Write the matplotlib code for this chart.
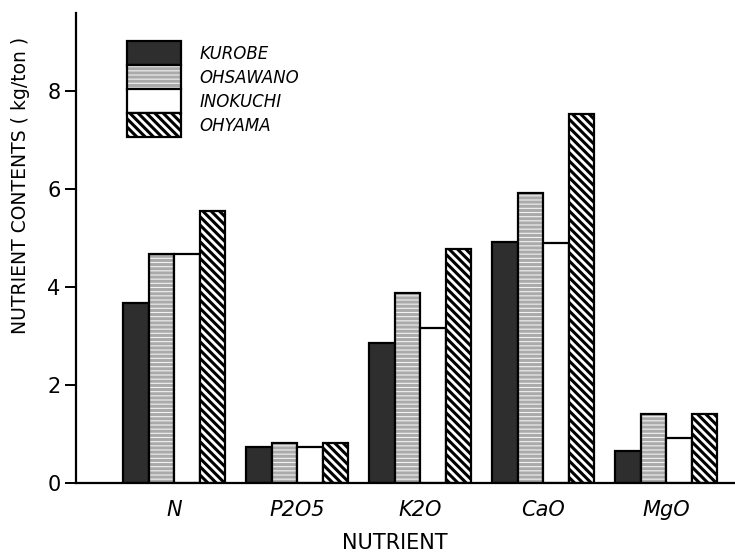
import matplotlib
matplotlib.use("Agg")
import matplotlib.pyplot as plt
from matplotlib.patches import Patch
from matplotlib.legend_handler import HandlerTuple
import numpy as np

nutrients = ["N", "P2O5", "K2O", "CaO", "MgO"]
kurobe = [3.68, 0.75, 2.87, 4.93, 0.66]
ohsawano = [4.68, 0.83, 3.89, 5.93, 1.42]
inokuchi = [4.68, 0.75, 3.17, 4.91, 0.93]
ohyama = [5.56, 0.83, 4.78, 7.54, 1.41]

names = ["KUROBE", "OHSAWANO", "INOKUCHI", "OHYAMA"]
series = [kurobe, ohsawano, inokuchi, ohyama]
# face colour, hatch, hatch colour
styles = [("#2e2e2e", None, "#2e2e2e"),
          ("#f2f2f2", "----", "#aaaaaa"),
          ("white", None, "white"),
          ("white", "\\\\\\\\", "black")]

plt.rcParams["hatch.linewidth"] = 2.2

fig = plt.figure(figsize=(7.35, 5.54), dpi=100)
ax = fig.add_axes([0.1034, 0.1273, 0.8966, 0.8492])

x = np.arange(len(nutrients))
w = 0.207
handles = []
for i, (vals, name, (fc, h, hc)) in enumerate(zip(series, names, styles)):
    pos = x + (i - 1.5) * w
    ax.bar(pos, vals, w, color=fc, edgecolor=hc, hatch=h, linewidth=0)
    ax.bar(pos, vals, w, fill=False, edgecolor="black", linewidth=1.6)
    handles.append((Patch(facecolor=fc, edgecolor=hc, hatch=h, linewidth=0),
                    Patch(fill=False, edgecolor="black", linewidth=1.6)))

ax.set_xlim(-0.8, 4.56)
ax.set_ylim(0, 9.6)
ax.spines["top"].set_visible(False)
ax.spines["right"].set_visible(False)
ax.spines["left"].set_linewidth(1.6)
ax.spines["bottom"].set_linewidth(1.6)

ax.set_yticks([0, 2, 4, 6, 8])
ax.tick_params(axis="y", length=8, width=1.4, pad=3, labelsize=15)
ax.set_xticks(x)
ax.set_xticklabels(nutrients, fontstyle="italic", fontsize=15)
ax.tick_params(axis="x", length=0, pad=12)

ax.set_ylabel("NUTRIENT CONTENTS ( kg/ton )", fontsize=13.5)
ax.yaxis.set_label_coords(-0.070, 0.634)
ax.set_xlabel("NUTRIENT", fontsize=15)
ax.xaxis.set_label_coords(0.484, -0.105)

# handleheight chosen so the rows are ~24 px and the patches touch
leg = ax.legend(handles, names, handler_map={tuple: HandlerTuple(ndivide=1, pad=0)},
                loc="upper left", bbox_to_anchor=(0.077, 0.94), frameon=False,
                borderpad=0, borderaxespad=0, labelspacing=0,
                handlelength=3.25, handleheight=1.84, handletextpad=1.1,
                prop={"style": "italic", "size": 12})

fig.savefig("out.png", dpi=100)
